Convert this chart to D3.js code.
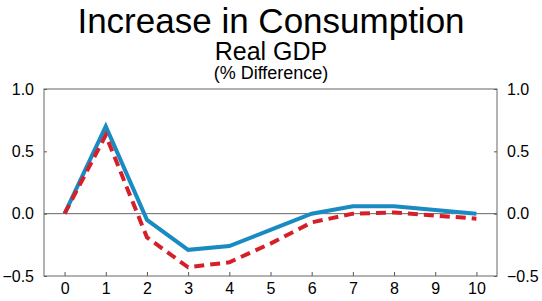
<!DOCTYPE html>
<html><head><meta charset="utf-8">
<script src="https://cdn.jsdelivr.net/npm/d3@7"></script>
<style>body{margin:0;background:#fff;} svg{display:block;}</style>
</head><body><svg id="c" width="542" height="301"></svg>
<script>
const periods = [0,1,2,3,4,5,6,7,8,9,10];
const seriesA = [0, 0.70, -0.05, -0.29, -0.26, -0.13, 0.0, 0.06, 0.06, 0.03, 0.0];
const seriesB = [0, 0.63, -0.19, -0.43, -0.39, -0.24, -0.07, 0.0, 0.01, -0.015, -0.04];
const yTicks = [-0.5, 0.0, 0.5, 1.0];
const xTicks = [0,1,2,3,4,5,6,7,8,9,10];
const title = "Increase in Consumption";
const subtitle = "Real GDP";
const unitLabel = "(% Difference)";

const svg = d3.select("#c");
const font = "'Liberation Sans', Arial, Helvetica, sans-serif";
const L = 44, R = 497, T = 89, B = 276;
const x = d3.scaleLinear().domain([-0.5, 10.5]).range([L, R]);
const y = d3.scaleLinear().domain([-0.5, 1.0]).range([B, T]);

svg.append("text").attr("x", 271).attr("y", 33).attr("text-anchor","middle")
  .attr("font-family", font).attr("font-size", 35).text(title);
svg.append("text").attr("x", 271).attr("y", 60).attr("text-anchor","middle")
  .attr("font-family", font).attr("font-size", 25).text(subtitle);
svg.append("text").attr("x", 271).attr("y", 79).attr("text-anchor","middle")
  .attr("font-family", font).attr("font-size", 18).text(unitLabel);

// zero line
svg.append("line").attr("x1", L).attr("x2", R).attr("y1", y(0)).attr("y2", y(0))
  .attr("stroke", "#666").attr("stroke-width", 1);

// axes
const fmt = d3.format(".1f");
const left = svg.append("g").attr("transform", `translate(${L},0)`)
  .call(d3.axisLeft(y).tickValues(yTicks).tickFormat(fmt).tickSize(-3).tickPadding(10));
const right = svg.append("g").attr("transform", `translate(${R},0)`)
  .call(d3.axisRight(y).tickValues(yTicks).tickFormat(fmt).tickSize(-3).tickPadding(10));
const bottom = svg.append("g").attr("transform", `translate(0,${B})`)
  .call(d3.axisBottom(x).tickValues(xTicks).tickSize(-4).tickPadding(7));
[left, right, bottom].forEach(g => {
  g.select(".domain").remove();
  g.selectAll(".tick line").attr("stroke", "#555");
  g.selectAll(".tick text").attr("font-family", font).attr("font-size", 16).attr("fill", "#000");
});
// frame
svg.append("rect").attr("x", L).attr("y", T).attr("width", R-L).attr("height", B-T)
  .attr("fill", "none").attr("stroke", "#666").attr("stroke-width", 1);

const line = d3.line().x((d,i) => x(periods[i])).y(d => y(d));
svg.append("path").datum(seriesA).attr("d", line).attr("fill","none")
  .attr("stroke", "#1a8bc2").attr("stroke-width", 4);
svg.append("path").datum(seriesB).attr("d", line).attr("fill","none")
  .attr("stroke", "#d5202a").attr("stroke-width", 4).attr("stroke-dasharray", "10,6");
</script></body></html>
